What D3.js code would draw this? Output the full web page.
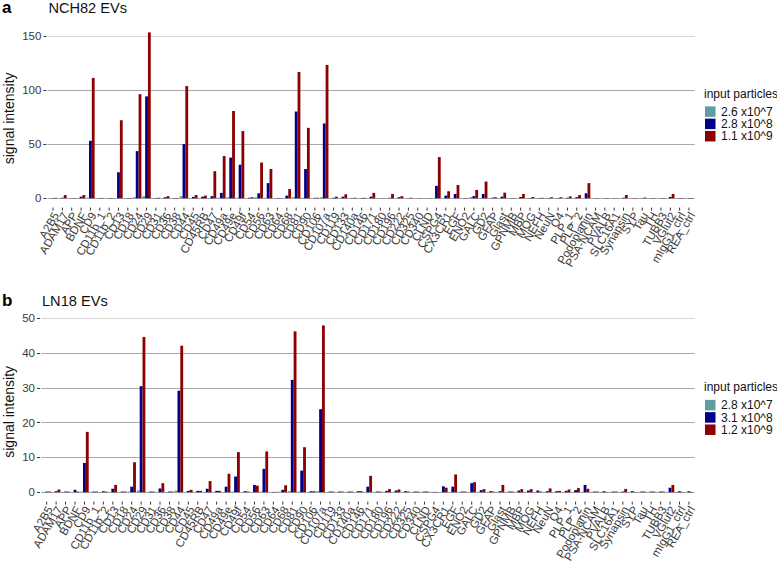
<!DOCTYPE html>
<html>
<head>
<meta charset="utf-8">
<script src="https://cdn.jsdelivr.net/npm/d3@7"></script>
<style>
  body { margin: 0; background: #fff; }
  svg { display: block; font-family: "Liberation Sans", Arial, sans-serif; }
  .tick-label { fill: #3a3a3a; font-size: 11.5px; }
  .y-label { fill: #3a3a3a; font-size: 11.5px; }
  .axis-title { fill: #111; font-size: 14px; }
  .panel-title { fill: #111; font-size: 14.6px; }
  .panel-tag { fill: #000; font-size: 17px; font-weight: bold; }
  .legend-text { fill: #111; font-size: 12px; }
</style>
</head>
<body>
<svg width="777" height="564"></svg>
<script>
const categories = ["A2B5", "ADAM17", "APP", "BDNF", "CD9", "CD11b_1", "CD11b_2", "CD13", "CD18", "CD24",
  "CD29", "CD31", "CD36", "CD38", "CD44", "CD45", "CD45RB", "CD47", "CD49a", "CD49e",
  "CD49f", "CD54", "CD56", "CD63", "CD64", "CD68", "CD81", "CD90", "CD106", "CD107a",
  "CD119", "CD133", "CD140a", "CD146", "CD171", "CD180", "CD196", "CD222", "CD325", "CD340",
  "CLND", "CSPG4", "CX3CR1", "EGF", "ENO2", "GALC", "GD2", "GFAP", "Glast", "GPNMB",
  "MBP", "MOG", "NEFH", "NeuN", "O4", "PLP_1", "PLP_2", "Podoplanin", "PSA-NCAM", "PVALB",
  "SLC16A1", "Synapsin", "SYP", "Tau", "TH", "TUBB3", "VGlut2", "mIgG1_ctrl", "REA_ctrl"];

// NCH82 EVs
const nch82Low = [0.2, 0.2, 0.1, 0.2, 0.5, 0.1, 0.1, 0.3, 0.1, 1,
  2, 0.1, 0.2, 0.1, 2, 0.2, 0.2, 0.3, 0.5, 1,
  0.5, 0.2, 1, 0.5, 0.1, 0.3, 1, 0.5, 0.1, 1,
  0.1, 0.2, 0.1, 0.1, 0.2, 0.1, 0.1, 0.1, 0.1, 0.1,
  0.1, 0.3, 0.2, 0.2, 0.1, 1.2, 0.2, 0.1, 0.1, 0.1,
  0.1, 0.1, 0.1, 0.1, 0.1, 0.1, 0.1, 0.2, 0.1, 0.1,
  0.1, 0.1, 0.1, 0.1, 0.1, 0.1, 0.1, 0.1, 0.1];
const nch82Mid = [0.3, 0.5, 0.2, 1.5, 53, 0.3, 0.3, 24, 0.3, 43.5,
  94, 0.3, 1, 0.3, 50, 1.3, 1.5, 2, 5, 37.5,
  31, 0.5, 4.6, 14, 0.2, 2.5, 80, 27, 0.4, 69,
  0.5, 1.5, 0.3, 0.3, 1.5, 0.1, 0.5, 1, 0.2, 0.1,
  0.1, 11.5, 2.5, 4, 0.2, 2, 4, 0.5, 1.5, 0.2,
  1.2, 0.3, 0.3, 0.3, 0.3, 0.5, 1, 4.6, 0.2, 0.2,
  0.2, 0.5, 0.2, 0.2, 0.2, 0.2, 1.3, 0.3, 0.3];
const nch82High = [0.5, 3, 0.3, 3, 111, 0.3, 0.3, 72, 0.3, 96,
  153, 0.5, 2, 0.3, 103.5, 3, 2.5, 25, 39, 80.5,
  62, 1, 33, 27, 0.3, 8.5, 116.5, 65, 0.5, 123,
  1.5, 3.7, 0.5, 0.5, 5, 0.2, 4, 2, 0.5, 0.2,
  0.2, 38, 6.5, 12.3, 0.3, 7.7, 15.4, 1, 5.2, 0.3,
  4, 1.2, 0.5, 1, 1, 1.8, 3, 14, 0.2, 0.3,
  0.2, 3, 0.3, 0.7, 0.3, 0.3, 4, 0.3, 0.3];

// LN18 EVs
const ln18Low = [0.1, 0.1, 0.1, 0.1, 0.2, 0.1, 0.1, 0.1, 0.1, 0.2,
  0.5, 0.1, 0.1, 0.1, 0.5, 0.1, 0.1, 0.1, 0.1, 0.1,
  0.2, 0.1, 0.1, 0.2, 0.1, 0.2, 0.3, 0.2, 0.1, 0.3,
  0.1, 0.1, 0.1, 0.1, 0.1, 0.1, 0.1, 0.1, 0.1, 0.1,
  0.1, 0.1, 0.1, 0.1, 0.1, 0.1, 0.1, 0.1, 0.1, 0.1,
  0.1, 0.1, 0.1, 0.1, 0.1, 0.1, 0.1, 0.1, 0.1, 0.1,
  0.1, 0.1, 0.1, 0.1, 0.1, 0.1, 0.1, 0.1, 0.1];
const ln18Mid = [0.2, 0.3, 0.2, 0.7, 8.4, 0.2, 0.3, 1, 0.2, 1.6,
  30.4, 0.2, 1.1, 0.2, 29.1, 0.4, 0.4, 1, 0.4, 1.6,
  4.5, 0.3, 2.1, 6.7, 0.1, 0.7, 32.2, 6.2, 0.3, 23.8,
  0.2, 0.2, 0.2, 0.3, 1.6, 0.2, 0.4, 0.5, 0.3, 0.2,
  0.2, 0.1, 1.7, 1.6, 0.2, 2.6, 0.6, 0.3, 0.3, 0.2,
  0.5, 0.5, 0.5, 0.3, 0.3, 0.4, 0.6, 2.1, 0.2, 0.3,
  0.2, 0.2, 0.3, 0.2, 0.2, 0.2, 1.3, 0.3, 0.3];
const ln18High = [0.2, 0.8, 0.2, 0.2, 17.3, 0.2, 0.2, 2.1, 0.2, 8.6,
  44.5, 0.2, 2.6, 0.2, 42, 0.7, 0.4, 3.2, 0.4, 5.3,
  11.5, 0.2, 1.9, 11.7, 0.1, 2, 46.1, 12.9, 0.3, 47.8,
  0.2, 0.2, 0.2, 0.3, 4.7, 0.2, 0.9, 0.8, 0.2, 0.2,
  0.2, 0.1, 1.3, 5.1, 0.2, 2.9, 0.9, 0.2, 2.1, 0.2,
  0.9, 0.9, 0.2, 1.1, 0.4, 0.8, 1.2, 1, 0.2, 0.1,
  0.2, 0.95, 0.1, 0.2, 0.2, 0.2, 2.1, 0.1, 0.1];

const seriesColors = ["#5F9EA0", "#00008B", "#8B0000"];
const nch82Legend = ["2.6 x10^7", "2.8 x10^8", "1.1 x10^9"];
const ln18Legend = ["2.8 x10^7", "3.1 x10^8", "1.2 x10^9"];

const svg = d3.select("svg");

function drawPanel(opts) {
  const { tag, title, series, legendLabels, yTicks, left, right, top, bottom } = opts;
  const g = svg.append("g");

  const x = d3.scalePoint()
    .domain(categories)
    .range([left, right])
    .padding(0.6);
  const step = x.step();

  const maxVal = d3.max(series.flat());
  const y = d3.scaleLinear()
    .domain([-0.05 * maxVal, maxVal * 1.05])
    .range([bottom, top]);

  // grid lines
  g.append("g")
    .selectAll("line")
    .data(yTicks)
    .enter()
    .append("line")
    .attr("x1", left)
    .attr("x2", right)
    .attr("y1", d => Math.round(y(d)) + 0.5)
    .attr("y2", d => Math.round(y(d)) + 0.5)
    .attr("stroke", (d, i) => i === yTicks.length - 1 ? "#d4d4d4" : "#a8a8a8")
    .attr("stroke-width", 1);

  // y axis ticks + labels
  const yAxis = g.append("g");
  yAxis.selectAll("line")
    .data(yTicks)
    .enter()
    .append("line")
    .attr("x1", left - 4)
    .attr("x2", left - 1)
    .attr("y1", d => Math.round(y(d)) + 0.5)
    .attr("y2", d => Math.round(y(d)) + 0.5)
    .attr("stroke", "#333");
  yAxis.selectAll("text")
    .data(yTicks)
    .enter()
    .append("text")
    .attr("class", "y-label")
    .attr("x", left - 6)
    .attr("y", d => y(d))
    .attr("dy", "0.36em")
    .attr("text-anchor", "end")
    .text(d => d);

  // bars
  const barW = step * 0.3;
  series.forEach((vals, s) => {
    g.append("g")
      .selectAll("rect")
      .data(vals)
      .enter()
      .append("rect")
      .attr("x", (d, i) => x(categories[i]) + (s - 1) * barW - barW / 2)
      .attr("width", barW)
      .attr("y", d => y(d))
      .attr("height", d => y(0) - y(d))
      .attr("fill", seriesColors[s]);
  });

  // x axis ticks + labels
  const xAxis = g.append("g");
  xAxis.selectAll("line")
    .data(categories)
    .enter()
    .append("line")
    .attr("x1", d => x(d))
    .attr("x2", d => x(d))
    .attr("y1", bottom + 1)
    .attr("y2", bottom + 4)
    .attr("stroke", "#333");
  xAxis.selectAll("text")
    .data(categories)
    .enter()
    .append("text")
    .attr("class", "tick-label")
    .attr("text-anchor", "end")
    .attr("transform", d => `translate(${x(d) + 3},${bottom + 6.5}) rotate(-60)`)
    .attr("dy", "0.35em")
    .text(d => d);

  // titles
  svg.append("text")
    .attr("class", "panel-tag")
    .attr("x", 2)
    .attr("y", top - 10.8)
    .text(tag);
  svg.append("text")
    .attr("class", "panel-title")
    .attr("x", left + 1)
    .attr("y", top - 11)
    .text(title);
  svg.append("text")
    .attr("class", "axis-title")
    .attr("text-anchor", "middle")
    .attr("transform", `translate(14,${(top + bottom) / 2 + 3}) rotate(-90)`)
    .text("signal intensity");

  // legend
  const midY = (top + bottom) / 2;
  const legend = svg.append("g")
    .attr("transform", `translate(704,${midY - 17.5})`);
  legend.append("text")
    .attr("class", "legend-text")
    .attr("x", 0)
    .attr("y", 0)
    .text("input particles");
  legendLabels.forEach((lab, i) => {
    legend.append("rect")
      .attr("x", 1)
      .attr("y", 8.5 + i * 12.3)
      .attr("width", 10.5)
      .attr("height", 10.5)
      .attr("fill", seriesColors[i]);
    legend.append("text")
      .attr("class", "legend-text")
      .attr("x", 17)
      .attr("y", 8.5 + i * 12.3 + 9.5)
      .text(lab);
  });
}

drawPanel({
  tag: "a",
  title: "NCH82 EVs",
  series: [nch82Low, nch82Mid, nch82High],
  legendLabels: nch82Legend,
  yTicks: [0, 50, 100, 150],
  left: 47.4, right: 694.6, top: 24.1, bottom: 206.6
});

drawPanel({
  tag: "b",
  title: "LN18 EVs",
  series: [ln18Low, ln18Mid, ln18High],
  legendLabels: ln18Legend,
  yTicks: [0, 10, 20, 30, 40, 50],
  left: 41, right: 694.6, top: 317.1, bottom: 500.6
});
</script>
</body>
</html>
